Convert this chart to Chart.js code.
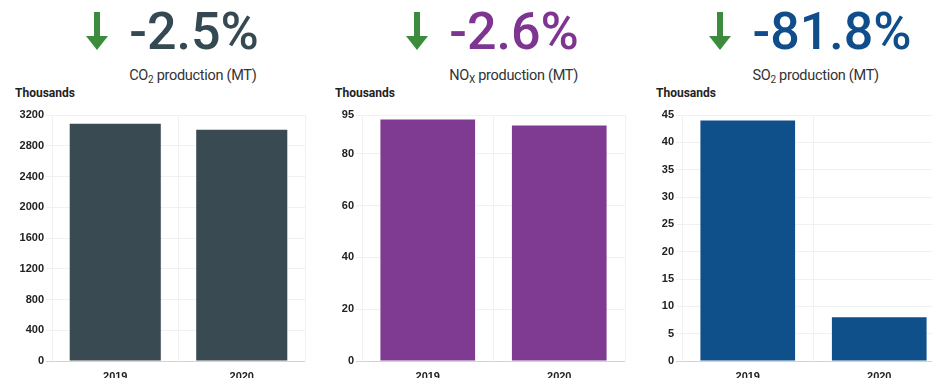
<!DOCTYPE html>
<html>
<head>
<meta charset="utf-8">
<script src="https://cdn.jsdelivr.net/npm/chart.js@4/dist/chart.umd.min.js"></script>
<style>
  html, body { margin: 0; padding: 0; background: #fff; }
  body { width: 932px; height: 378px; overflow: hidden; position: relative; font-family: Roboto, "Noto Sans", sans-serif; }
  .head { position: absolute; top: 0; width: 345px; display: flex; justify-content: center; }
  .arrow { margin-top: 12px; margin-right: 21px; }
  .col { display: flex; flex-direction: column; }
  .pct { font-size: 52px; font-weight: 500; line-height: 52px; margin-top: 6px; }
  .sub { font-size: 14.5px; color: #333; margin-top: 9px; white-space: nowrap; letter-spacing: -0.3px; }
  .sub sub { font-size: 10px; vertical-align: -3px; }
  .units { position: absolute; top: 86px; font-size: 12px; font-weight: bold; color: #222; }
  .box { position: absolute; top: 100px; width: 320px; height: 300px; }
</style>
</head>
<body>

<div class="head" style="left:0px">
  <svg class="arrow" width="22" height="39" viewBox="0 0 22 39"><rect x="8" y="0" width="6" height="27" fill="#3d8b3d"/><polygon points="0,24 22,24 11,38" fill="#3d8b3d"/></svg>
  <div class="col"><div class="pct" style="color:#354953">-2.5%</div><div class="sub">CO<sub>2</sub> production (MT)</div></div>
</div>
<div class="head" style="left:320px">
  <svg class="arrow" width="22" height="39" viewBox="0 0 22 39"><rect x="8" y="0" width="6" height="27" fill="#3d8b3d"/><polygon points="0,24 22,24 11,38" fill="#3d8b3d"/></svg>
  <div class="col"><div class="pct" style="color:#7e3592">-2.6%</div><div class="sub">NO<sub>X</sub> production (MT)</div></div>
</div>
<div class="head" style="left:638px">
  <svg class="arrow" width="22" height="39" viewBox="0 0 22 39"><rect x="8" y="0" width="6" height="27" fill="#3d8b3d"/><polygon points="0,24 22,24 11,38" fill="#3d8b3d"/></svg>
  <div class="col"><div class="pct" style="color:#104e8b">-81.8%</div><div class="sub">SO<sub>2</sub> production (MT)</div></div>
</div>

<div class="units" style="left:15px">Thousands</div>
<div class="units" style="left:335px">Thousands</div>
<div class="units" style="left:656px">Thousands</div>

<div class="box" style="left:0px"><canvas id="co2Chart"></canvas></div>
<div class="box" style="left:320px"><canvas id="noxChart"></canvas></div>
<div class="box" style="left:640px"><canvas id="so2Chart"></canvas></div>

<script>
const years = ['2019', '2020'];

const co2Values = [3085, 3008];
const noxValues = [93.3, 90.9];
const so2Values = [44.0, 8.0];

const co2Ticks = [0, 400, 800, 1200, 1600, 2000, 2400, 2800, 3200];
const noxTicks = [0, 20, 40, 60, 80, 95];
const so2Ticks = [0, 5, 10, 15, 20, 25, 30, 35, 40, 45];

const tickFont = { family: '"Liberation Sans", Arial, sans-serif', size: 11, weight: 'bold' };

function makeChart(canvasId, values, tickVals, color, axisWidth, rightPad) {
    const config = {
        type: 'bar',
        data: {
            labels: years,
            datasets: [{
                data: values,
                backgroundColor: color,
                borderWidth: 0,
                categoryPercentage: 0.8,
                barPercentage: 0.9
            }]
        },
        options: {
            responsive: true,
            maintainAspectRatio: false,
            animation: false,
            layout: { padding: { top: 15, right: rightPad, bottom: 0, left: 0 } },
            plugins: { legend: { display: false }, tooltip: { enabled: false } },
            scales: {
                x: {
                    grid: { offset: true, color: '#f1f1f1', drawTicks: false },
                    border: { display: false },
                    ticks: { color: '#222', font: tickFont, padding: 9 },
                    afterFit: (scale) => { scale.height = 39; }
                },
                y: {
                    min: 0,
                    max: tickVals[tickVals.length - 1],
                    afterBuildTicks: (scale) => { scale.ticks = tickVals.map(v => ({ value: v })); },
                    grid: {
                        color: (ctx) => (ctx.tick && ctx.tick.value === 0) ? '#e5cdc7' : '#f1f1f1',
                        tickLength: 6
                    },
                    border: { display: false },
                    ticks: { color: '#222', font: tickFont, padding: 2, callback: (v) => String(v) },
                    afterFit: (scale) => { scale.width = axisWidth; }
                }
            }
        }
    };
    return new Chart(document.getElementById(canvasId), config);
}

makeChart('co2Chart', co2Values, co2Ticks, '#3a4a53', 52, 15);
makeChart('noxChart', noxValues, noxTicks, '#7f3b91', 42, 15);
makeChart('so2Chart', so2Values, so2Ticks, '#0f4f8a', 42, 15);
</script>
</body>
</html>
